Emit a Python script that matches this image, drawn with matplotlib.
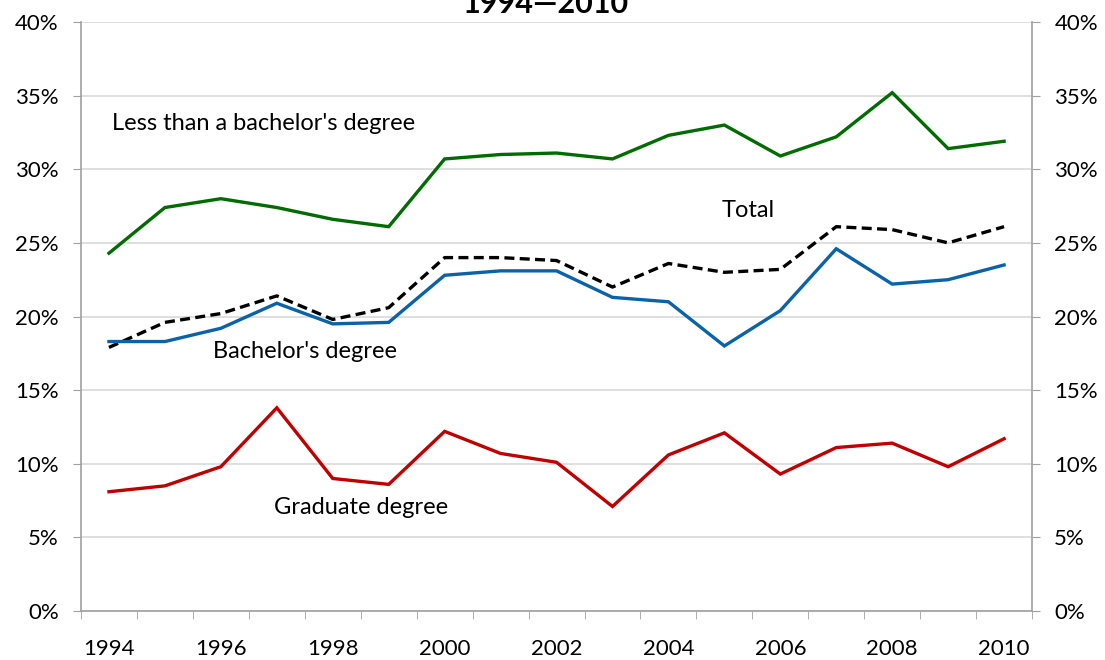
import numpy as np
import matplotlib.pyplot as plt
from matplotlib.ticker import FuncFormatter, MultipleLocator

years = list(range(1994, 2011))
less_than_ba = [24.3, 27.4, 28.0, 27.4, 26.6, 26.1, 30.7, 31.0, 31.1, 30.7,
                32.3, 33.0, 30.9, 32.2, 35.2, 31.4, 31.9]
total = [17.9, 19.6, 20.2, 21.4, 19.8, 20.6, 24.0, 24.0, 23.8, 22.0,
         23.6, 23.0, 23.2, 26.1, 25.9, 25.0, 26.1]
bachelors = [18.3, 18.3, 19.2, 20.9, 19.5, 19.6, 22.8, 23.1, 23.1, 21.3,
             21.0, 18.0, 20.4, 24.6, 22.2, 22.5, 23.5]
graduate = [8.1, 8.5, 9.8, 13.8, 9.0, 8.6, 12.2, 10.7, 10.1, 7.1,
            10.6, 12.1, 9.3, 11.1, 11.4, 9.8, 11.7]

plt.rcParams['font.family'] = ['Lato', 'DejaVu Sans']

fig = plt.figure(figsize=(11.05, 6.6), dpi=100)
ax = fig.add_axes([0.0733, 0.0742, 0.8607, 0.8925])

ax.plot(years, less_than_ba, color='#006b00', lw=2.4, solid_joinstyle='miter')
ax.plot(years, total, color='black', lw=2.4, ls=(0, (3, 1.6)))
ax.plot(years, bachelors, color='#0a62a8', lw=2.4, solid_joinstyle='miter')
ax.plot(years, graduate, color='#c00000', lw=2.4, solid_joinstyle='miter')

# series labels
lbl = dict(fontsize=17, va='center')
ax.text(1994.05, 33.1, "Less than a bachelor's degree", ha='left', **lbl)
ax.text(2005.43, 27.2, "Total", ha='center', **lbl)
ax.text(1997.51, 17.6, "Bachelor's degree", ha='center', **lbl)
ax.text(1998.5, 7.06, "Graduate degree", ha='center', **lbl)

ax.set_xlim(1993.5, 2010.5)
ax.set_ylim(0, 40)
ax.yaxis.set_major_locator(MultipleLocator(5))
ax.yaxis.set_major_formatter(FuncFormatter(lambda v, p: f'{v:.0f}%'))
ax.set_xticks(years[::2])
ax.set_xticks(np.arange(1993.5, 2011, 1), minor=True)
ax.tick_params(axis='x', which='major', length=0, pad=20, labelsize=16)
ax.tick_params(axis='x', which='minor', length=6, color='#a0a0a0', direction='out')
ax.tick_params(axis='y', which='major', length=6, color='#a0a0a0', labelsize=16,
               pad=10, left=True, right=True, labelleft=True, labelright=True)

ax.grid(axis='y', color='#d9d9d9', lw=1.2)
ax.set_axisbelow(True)
for s in ['left', 'right', 'bottom']:
    ax.spines[s].set_color('#a0a0a0')
    ax.spines[s].set_linewidth(1.2)
ax.spines['top'].set_visible(False)

fig.text(0.494, 0.981, '1994\u20142010', fontsize=22, fontweight='bold',
         ha='center', va='baseline')

fig.savefig('out.png', dpi=100)
